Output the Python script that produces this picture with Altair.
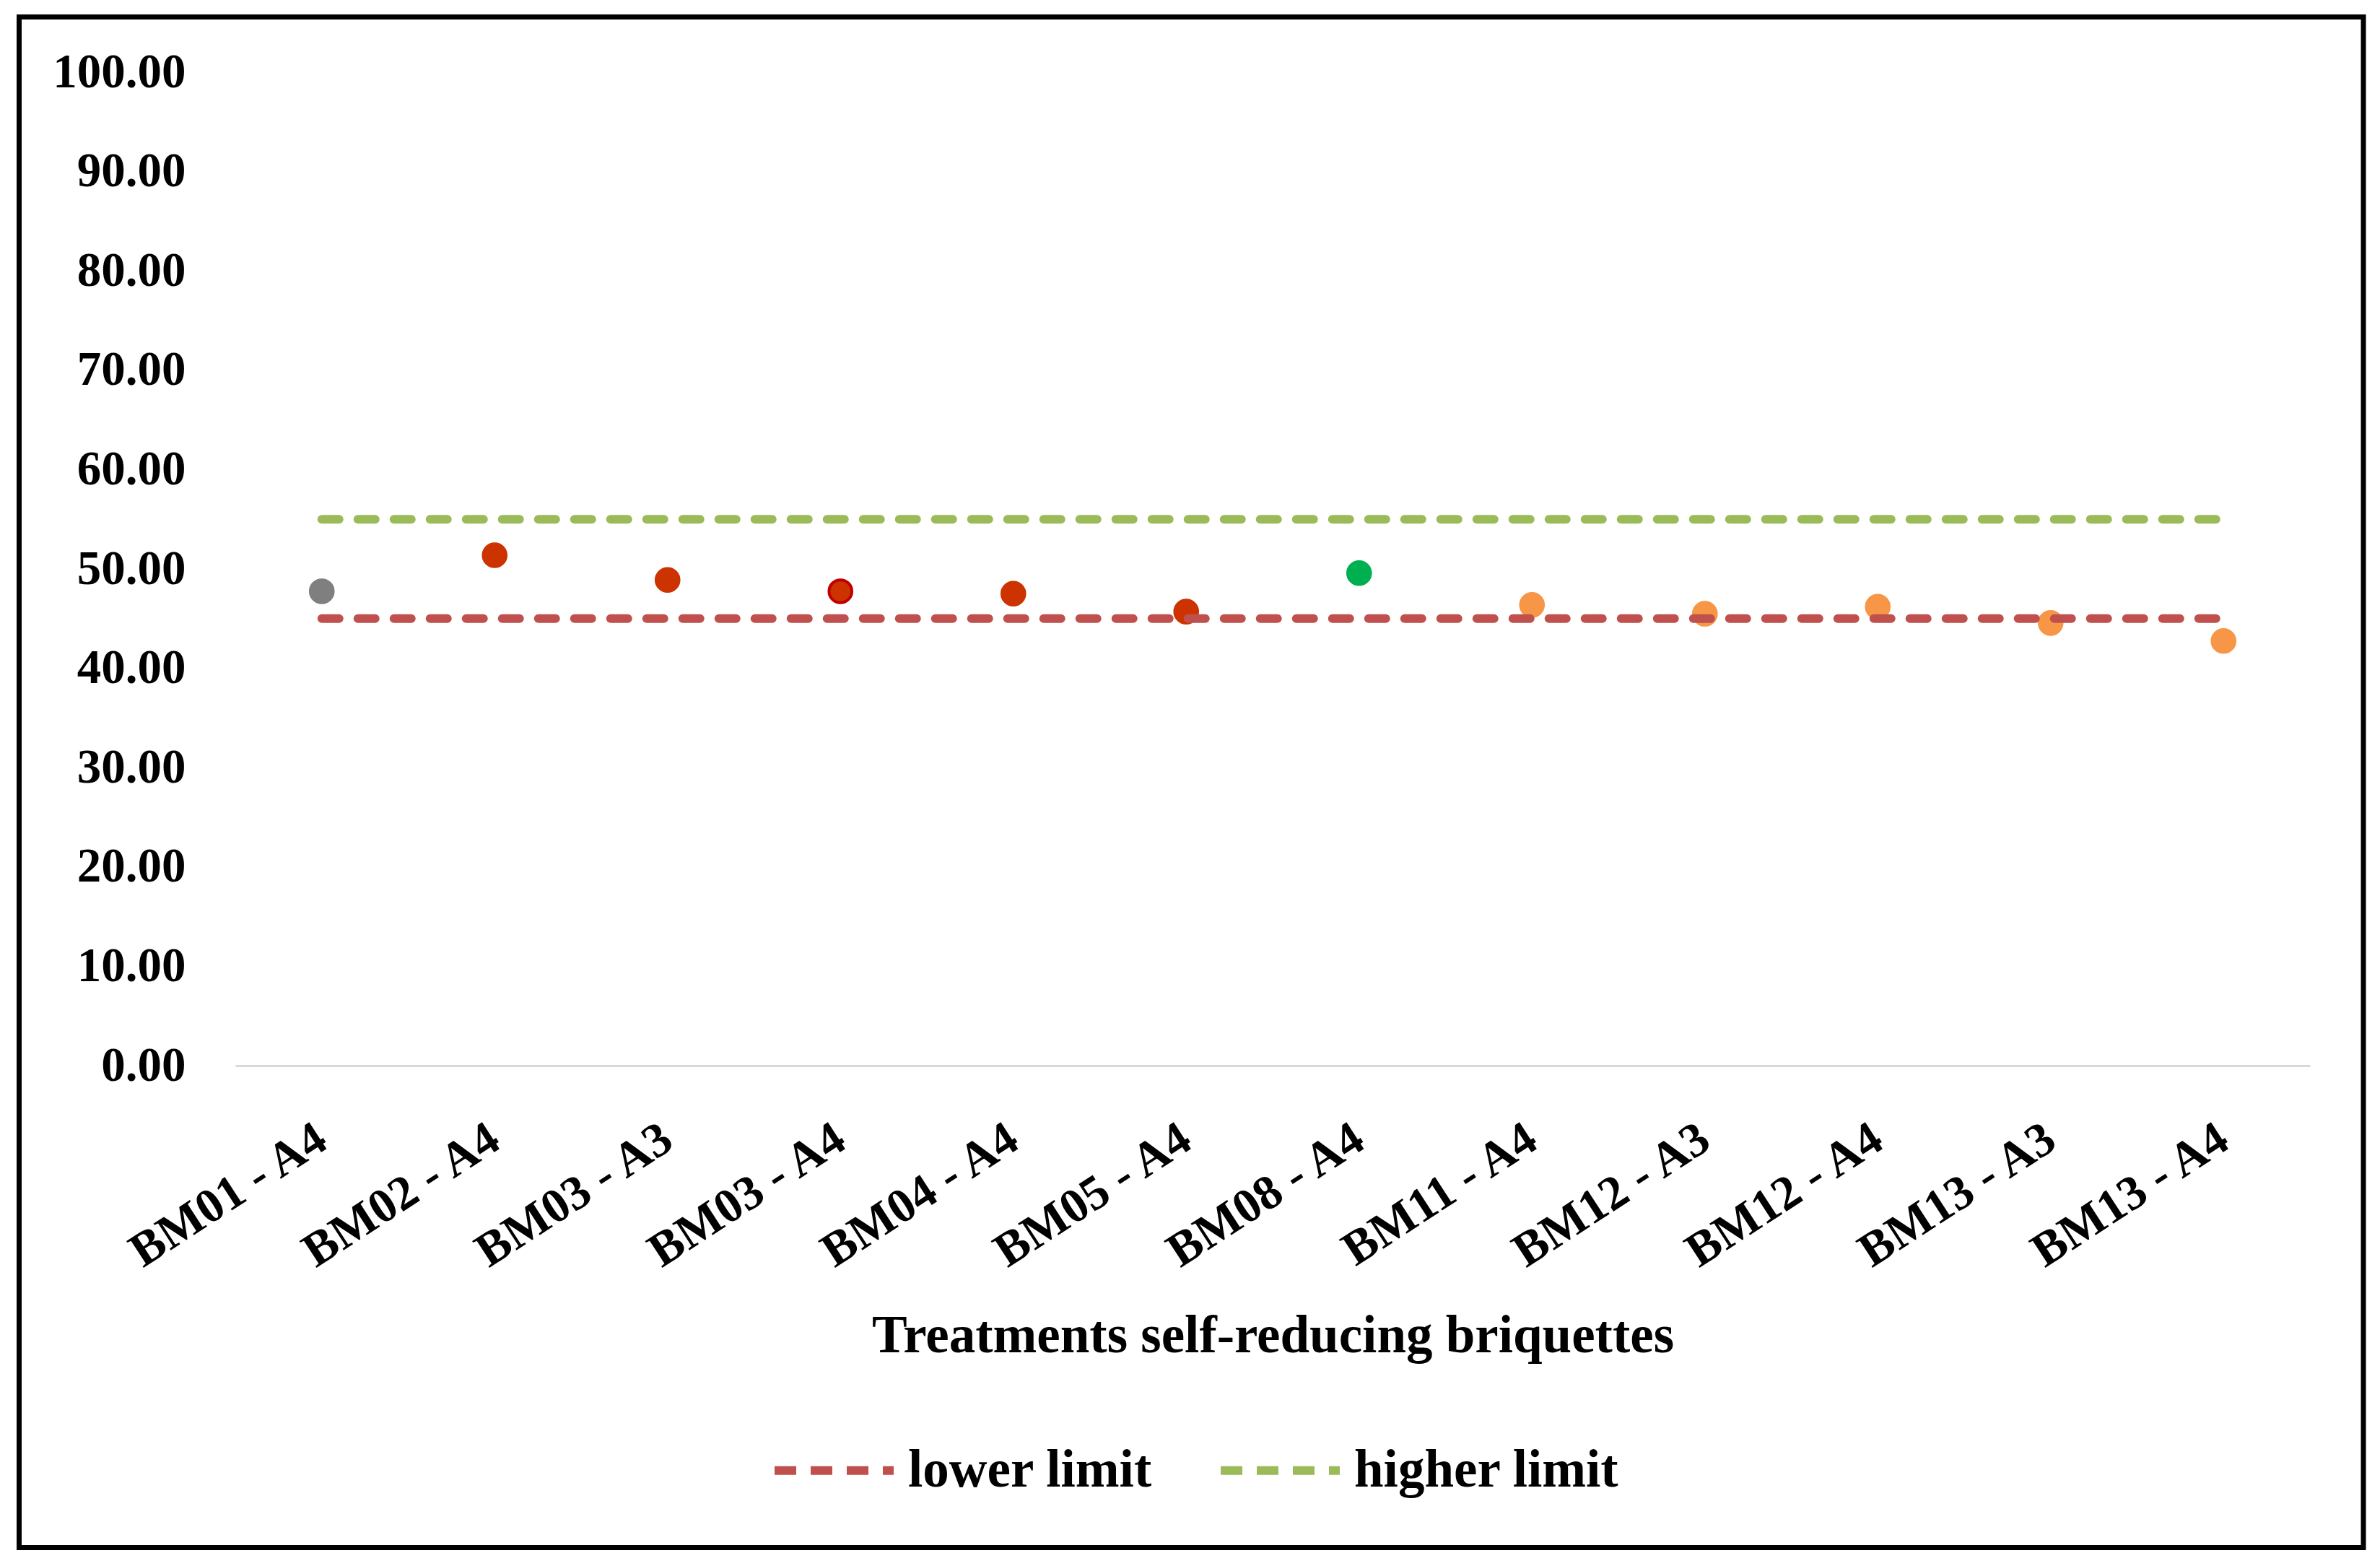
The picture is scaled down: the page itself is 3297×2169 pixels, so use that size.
import altair as alt
import pandas as pd

categories = ["BM01 - A4", "BM02 - A4", "BM03 - A3", "BM03 - A4", "BM04 - A4", "BM05 - A4",
              "BM08 - A4", "BM11 - A4", "BM12 - A3", "BM12 - A4", "BM13 - A3", "BM13 - A4"]
values = [47.75, 51.38, 48.89, 47.75, 47.51, 45.70, 49.58, 46.38, 45.49, 46.19, 44.56, 42.75]
fill_colors = ["#7F7F7F", "#CC3300", "#CC3300", "#CC3300", "#CC3300", "#CC3300",
               "#00B050", "#F79646", "#F79646", "#F79646", "#F79646", "#F79646"]
stroke_colors = ["#7F7F7F", "#CC3300", "#CC3300", "#C00000", "#CC3300", "#CC3300",
                 "#00B050", "#F79646", "#F79646", "#F79646", "#F79646", "#F79646"]
lower_limit = [45.0] * 12
higher_limit = [55.0] * 12
series_names = ["lower limit", "higher limit"]
series_colors = ["#C0504D", "#9BBB59"]
y_ticks = [0, 10, 20, 30, 40, 50, 60, 70, 80, 90, 100]

FONT = "Liberation Serif"

pts = pd.DataFrame({"cat": categories, "val": values, "fill": fill_colors, "stroke": stroke_colors})
lim = pd.DataFrame({
    "cat": categories + categories,
    "val": lower_limit + higher_limit,
    "series": [series_names[0]] * 12 + [series_names[1]] * 12,
})

W, H = 2874, 1376

x_enc = alt.X(
    "cat:N", sort=categories,
    scale=alt.Scale(type="point", padding=0.5),
    axis=alt.Axis(
        title="Treatments self-reducing briquettes",
        labelAngle=327, labelAlign="right", labelBaseline="middle", labelLimit=0,
        labelFont=FONT, labelFontSize=67, labelFontWeight="bold", labelColor="#000000",
        labelPadding=95, ticks=False, grid=False,
        domainColor="#D9D9D9", domainWidth=3,
        titleFont=FONT, titleFontSize=73, titleFontWeight="bold", titleColor="#000000",
        titleX=W / 2, titleY=374, titleBaseline="middle", titleAlign="center", titleLimit=0,
    ),
)
y_enc = alt.Y(
    "val:Q",
    scale=alt.Scale(domain=[0, 100], nice=False, zero=True),
    axis=alt.Axis(
        values=y_ticks, format=".2f", title=None, grid=False, domain=False, ticks=False,
        labelFont=FONT, labelFontSize=67, labelFontWeight="bold", labelColor="#000000",
        labelPadding=69, labelBaseline="middle", labelLimit=0,
    ),
)

points = alt.Chart(pts).mark_point(filled=True, size=1000, shape="circle", strokeWidth=4, opacity=1).encode(
    x=x_enc, y=y_enc,
    fill=alt.Fill("fill:N", scale=None),
    stroke=alt.Stroke("stroke:N", scale=None),
)

lines = alt.Chart(lim).mark_line(strokeWidth=12, strokeDash=[24, 26], strokeCap="round").encode(
    x=x_enc, y=y_enc,
    color=alt.Color(
        "series:N",
        scale=alt.Scale(domain=series_names, range=series_colors),
        legend=alt.Legend(
            orient="none", legendX=741, legendY=1848, direction="horizontal", columns=2,
            title=None, symbolType="stroke", symbolSize=27225, symbolStrokeWidth=12,
            symbolDash=[30, 20], labelFont=FONT, labelFontSize=73, labelFontWeight="bold",
            labelColor="#000000", labelOffset=14, columnPadding=70, padding=0, labelLimit=0,
        ),
    ),
)

border = alt.Chart(pd.DataFrame({"k": [0]})).mark_rect(
    fillOpacity=0, stroke="#000000", strokeWidth=7
).encode(
    x=alt.value(-299.5), x2=alt.value(2948), y=alt.value(-76.5), y2=alt.value(2043.5)
)

chart = alt.layer(points, lines, border).properties(
    width=W, height=H,
    padding={"left": 15, "top": 12, "right": 5, "bottom": 5},
    background="#FFFFFF",
).configure_view(stroke=None)

chart.save("out.html", embed_options={"renderer": "svg", "actions": False})
